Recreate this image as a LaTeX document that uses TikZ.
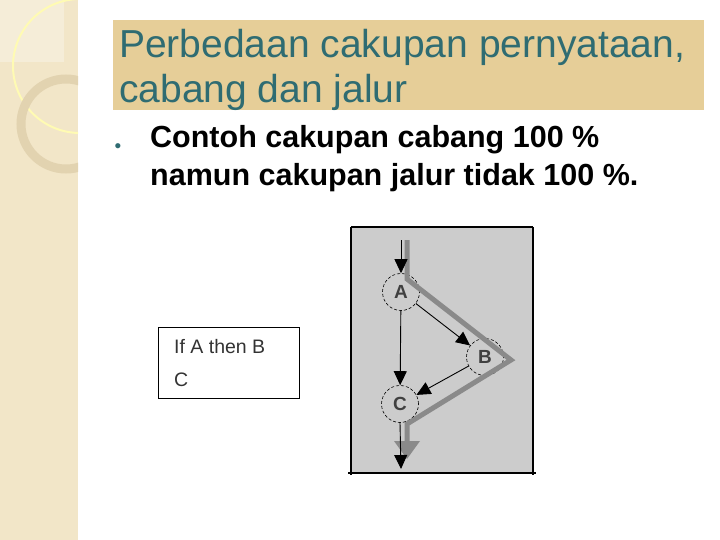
\documentclass[tikz,border=0pt]{standalone}
\usepackage{fontspec}
\setmainfont{Liberation Sans}
\usetikzlibrary{arrows.meta}
\definecolor{strip}{HTML}{F2E6C8}
\definecolor{stripsq}{HTML}{F5EDD8}
\definecolor{ringc}{HTML}{E2D3B0}
\definecolor{band}{HTML}{E6CE98}
\definecolor{titlec}{HTML}{2F6C72}
\definecolor{diag}{HTML}{CCCCCC}
\definecolor{gpath}{HTML}{8A8A8A}
\tikzset{
  nd/.style={circle,draw=black,densely dashed,line width=0.6pt,minimum size=37pt,inner sep=0pt,font=\fontsize{19}{19}\selectfont\bfseries,text=black!75},
  thin/.style={line width=0.9pt,-{Triangle[length=14pt,width=13pt]}},
  big/.style={line width=5pt,draw=gpath,line join=miter},
  ttl/.style={anchor=west,text=titlec,font=\fontsize{39}{39}\selectfont,inner sep=0pt},
  bul/.style={anchor=west,font=\fontsize{30.5}{30.5}\selectfont\bfseries,inner sep=0pt},
  code/.style={anchor=west,font=\fontsize{19.5}{19.5}\selectfont,text=black!80,inner sep=0pt}
}
\begin{document}
\begin{tikzpicture}[x=1pt,y=-1pt]
\useasboundingbox (0,0) rectangle (720,540);
\fill[white] (0,0) rectangle (720,540);
% left strip
\fill[strip] (0,0) rectangle (78,540);
\fill[stripsq] (0,0) rectangle (64,62);
\begin{scope}
\clip (0,0) rectangle (78,540);
\draw[white!70!yellow,line width=2pt] (80,66) circle (67);
\draw[ringc,line width=9pt] (66,124) circle (45);
\end{scope}
% title band
\fill[band] (113,20) rectangle (704,110);
\node[ttl] (t1) at (119,47) {Perbedaan cakupan pernyataan,};
\node[ttl] (t2) at (119,92) {cabang dan jalur};
% bullet
\node[text=titlec,font=\fontsize{19}{19}\selectfont,inner sep=0pt] (dot) at (118,148) {•};
\node[bul] (b1) at (150,140) {Contoh cakupan cabang 100 \%};
\node[bul] (b2) at (150,178) {namun cakupan jalur tidak 100 \%.};
% code box
\draw[line width=0.8pt] (158,327) rectangle (299,398);
\node[code] (c1) at (174,347) {If A then B};
\node[code] (c2) at (174,380) {C};
% diagram
\fill[diag] (351,227) rectangle (533,473);
\draw[line width=1.2pt] (351,227) -- (533,227);
\draw[line width=1.2pt] (351,227) -- (351,475);
\draw[line width=1.2pt] (533,227) -- (533,475);
\draw[line width=1.2pt] (348,473) -- (536,473);
\node[nd] (A) at (401,292) {A};
\node[nd] (B) at (485,357) {B};
\node[nd] (C) at (400,404) {C};
\coordinate (top) at (401,240);
\coordinate (bot) at (401,469);
\coordinate (g0) at (407,240);
\coordinate (g1) at (407,279);
\coordinate (g2) at (511,360);
\coordinate (g3) at (407,424);
\coordinate (g4) at (407,446);
\draw[big] (g0) -- (g1) -- (g2) -- (g3) -- (g4);
\fill[gpath] (394,441) -- (420,441) -- (407,459) -- cycle;
\draw[thin] (top) -- (A.north);
\draw[thin] (A) -- (B);
\draw[thin] (A) -- (C);
\draw[thin] (B) -- (C);
\draw[thin] (C.south) -- (bot);
\end{tikzpicture}
\end{document}
